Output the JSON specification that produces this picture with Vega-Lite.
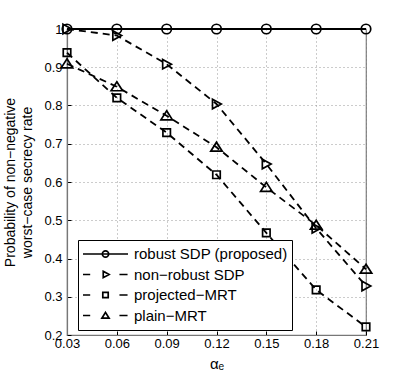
{
  "$schema": "https://vega.github.io/schema/vega-lite/v6.json",
  "width": 299,
  "height": 306,
  "autosize": {"type": "none"},
  "padding": {"left": 67, "top": 29, "right": 38, "bottom": 47},
  "background": "white",
  "config": {
    "font": "Liberation Sans, Arial, DejaVu Sans",
    "view": {"stroke": "#777777", "strokeWidth": 1.2},
    "axis": {
      "domainColor": "#777777",
      "domainWidth": 1.2,
      "gridColor": "#999999",
      "gridDash": [1, 3],
      "gridWidth": 1,
      "ticks": true,
      "tickSize": -4,
      "tickColor": "#000000",
      "tickWidth": 1,
      "labelFlush": false,
      "labelFont": "Liberation Sans, Arial",
      "labelFontSize": 13,
      "labelColor": "#000000",
      "titleFont": "Liberation Sans, Arial, DejaVu Sans",
      "titleFontSize": 14,
      "titleFontWeight": "normal",
      "titleColor": "#000000"
    }
  },
  "data": {
    "values": [
      {"x": 0.03, "series": "robust SDP (proposed)", "y": 1.0},
      {"x": 0.06, "series": "robust SDP (proposed)", "y": 1.0},
      {"x": 0.09, "series": "robust SDP (proposed)", "y": 1.0},
      {"x": 0.12, "series": "robust SDP (proposed)", "y": 1.0},
      {"x": 0.15, "series": "robust SDP (proposed)", "y": 1.0},
      {"x": 0.18, "series": "robust SDP (proposed)", "y": 1.0},
      {"x": 0.21, "series": "robust SDP (proposed)", "y": 1.0},
      {"x": 0.03, "series": "non−robust SDP", "y": 1.0},
      {"x": 0.06, "series": "non−robust SDP", "y": 0.983},
      {"x": 0.09, "series": "non−robust SDP", "y": 0.908},
      {"x": 0.12, "series": "non−robust SDP", "y": 0.804},
      {"x": 0.15, "series": "non−robust SDP", "y": 0.647},
      {"x": 0.18, "series": "non−robust SDP", "y": 0.479},
      {"x": 0.21, "series": "non−robust SDP", "y": 0.328},
      {"x": 0.03, "series": "projected−MRT", "y": 0.938},
      {"x": 0.06, "series": "projected−MRT", "y": 0.82},
      {"x": 0.09, "series": "projected−MRT", "y": 0.729},
      {"x": 0.12, "series": "projected−MRT", "y": 0.619},
      {"x": 0.15, "series": "projected−MRT", "y": 0.467},
      {"x": 0.18, "series": "projected−MRT", "y": 0.318},
      {"x": 0.21, "series": "projected−MRT", "y": 0.221},
      {"x": 0.03, "series": "plain−MRT", "y": 0.909},
      {"x": 0.06, "series": "plain−MRT", "y": 0.849},
      {"x": 0.09, "series": "plain−MRT", "y": 0.773},
      {"x": 0.12, "series": "plain−MRT", "y": 0.691},
      {"x": 0.15, "series": "plain−MRT", "y": 0.586},
      {"x": 0.18, "series": "plain−MRT", "y": 0.487},
      {"x": 0.21, "series": "plain−MRT", "y": 0.372}
    ]
  },
  "encoding": {
    "x": {
      "field": "x",
      "type": "quantitative",
      "scale": {"domain": [0.03, 0.21], "nice": false, "zero": false},
      "axis": {
        "values": [0.03, 0.06, 0.09, 0.12, 0.15, 0.18, 0.21],
        "format": ".2f",
        "labelPadding": 6,
        "title": "αₑ",
        "titleY": 33,
        "titleBaseline": "alphabetic",
        "titleFontSize": 15
      }
    },
    "y": {
      "field": "y",
      "type": "quantitative",
      "scale": {"domain": [0.2, 1.0], "nice": false, "zero": false},
      "axis": {
        "values": [0.2, 0.3, 0.4, 0.5, 0.6, 0.7, 0.8, 0.9, 1.0],
        "labelExpr": "datum.value == 1 ? '1' : format(datum.value, '.1f')",
        "labelPadding": 9,
        "title": ["Probability of non−negative", "worst−case secrecy rate"],
        "titleX": -64,
        "titleBaseline": "top",
        "titleLineHeight": 17
      }
    }
  },
  "layer": [
    {
      "mark": {"type": "line", "color": "black", "strokeWidth": 1.8},
      "encoding": {
        "detail": {"field": "series"},
        "strokeDash": {
          "field": "series",
          "scale": {
            "domain": ["robust SDP (proposed)", "non−robust SDP", "projected−MRT", "plain−MRT"],
            "range": [[1, 0], [7, 5], [7, 5], [7, 5]]
          },
          "legend": null
        }
      }
    },
    {
      "mark": {"type": "point", "filled": false, "color": "black", "strokeWidth": 1.7, "size": 100, "opacity": 1},
      "encoding": {
        "shape": {
          "field": "series",
          "scale": {
            "domain": ["robust SDP (proposed)", "non−robust SDP", "projected−MRT", "plain−MRT"],
            "range": [
              "M-0.95,0A0.95,0.95,0,1,1,0.95,0A0.95,0.95,0,1,1,-0.95,0Z",
              "M-0.8,-0.95L0.95,0L-0.8,0.95Z",
              "M-0.75,-0.75L0.75,-0.75L0.75,0.75L-0.75,0.75Z",
              "M0,-1L1.15,0.8L-1.15,0.8Z"
            ]
          },
          "legend": null
        }
      }
    },
    {
      "mark": {"type": "point", "filled": false, "color": "black", "strokeWidth": 1.7, "size": 2025, "opacity": 0},
      "encoding": {
        "shape": {
          "field": "series",
          "scale": {
            "domain": ["robust SDP (proposed)", "non−robust SDP", "projected−MRT", "plain−MRT"],
            "range": [
              "M-1,0L1,0M-0.14,0A0.14,0.14,0,1,1,0.14,0A0.14,0.14,0,1,1,-0.14,0Z",
              "M-1,0L-0.68,0M0.62,0L0.98,0M-0.1,-0.14L0.16,0L-0.1,0.14Z",
              "M-1,0L-0.68,0M0.62,0L0.98,0M-0.12,-0.12L0.12,-0.12L0.12,0.12L-0.12,0.12Z",
              "M-1,0L-0.68,0M0.62,0L0.98,0M0,-0.14L0.16,0.12L-0.16,0.12Z"
            ]
          },
          "legend": {
            "title": null,
            "orient": "none",
            "legendX": 11,
            "legendY": 211,
            "fillColor": "white",
            "strokeColor": "black",
            "padding": 4,
            "rowPadding": 0.5,
            "clipHeight": 20,
            "symbolSize": 2025,
            "symbolOpacity": 1,
            "symbolStrokeWidth": 1.7,
            "symbolStrokeColor": "black",
            "symbolFillColor": "transparent",
            "labelFont": "Liberation Sans, Arial",
            "labelFontSize": 15,
            "labelColor": "black",
            "labelOffset": 5
          }
        }
      }
    }
  ],
  "resolve": {"scale": {"shape": "independent"}, "legend": {"shape": "independent"}}
}
